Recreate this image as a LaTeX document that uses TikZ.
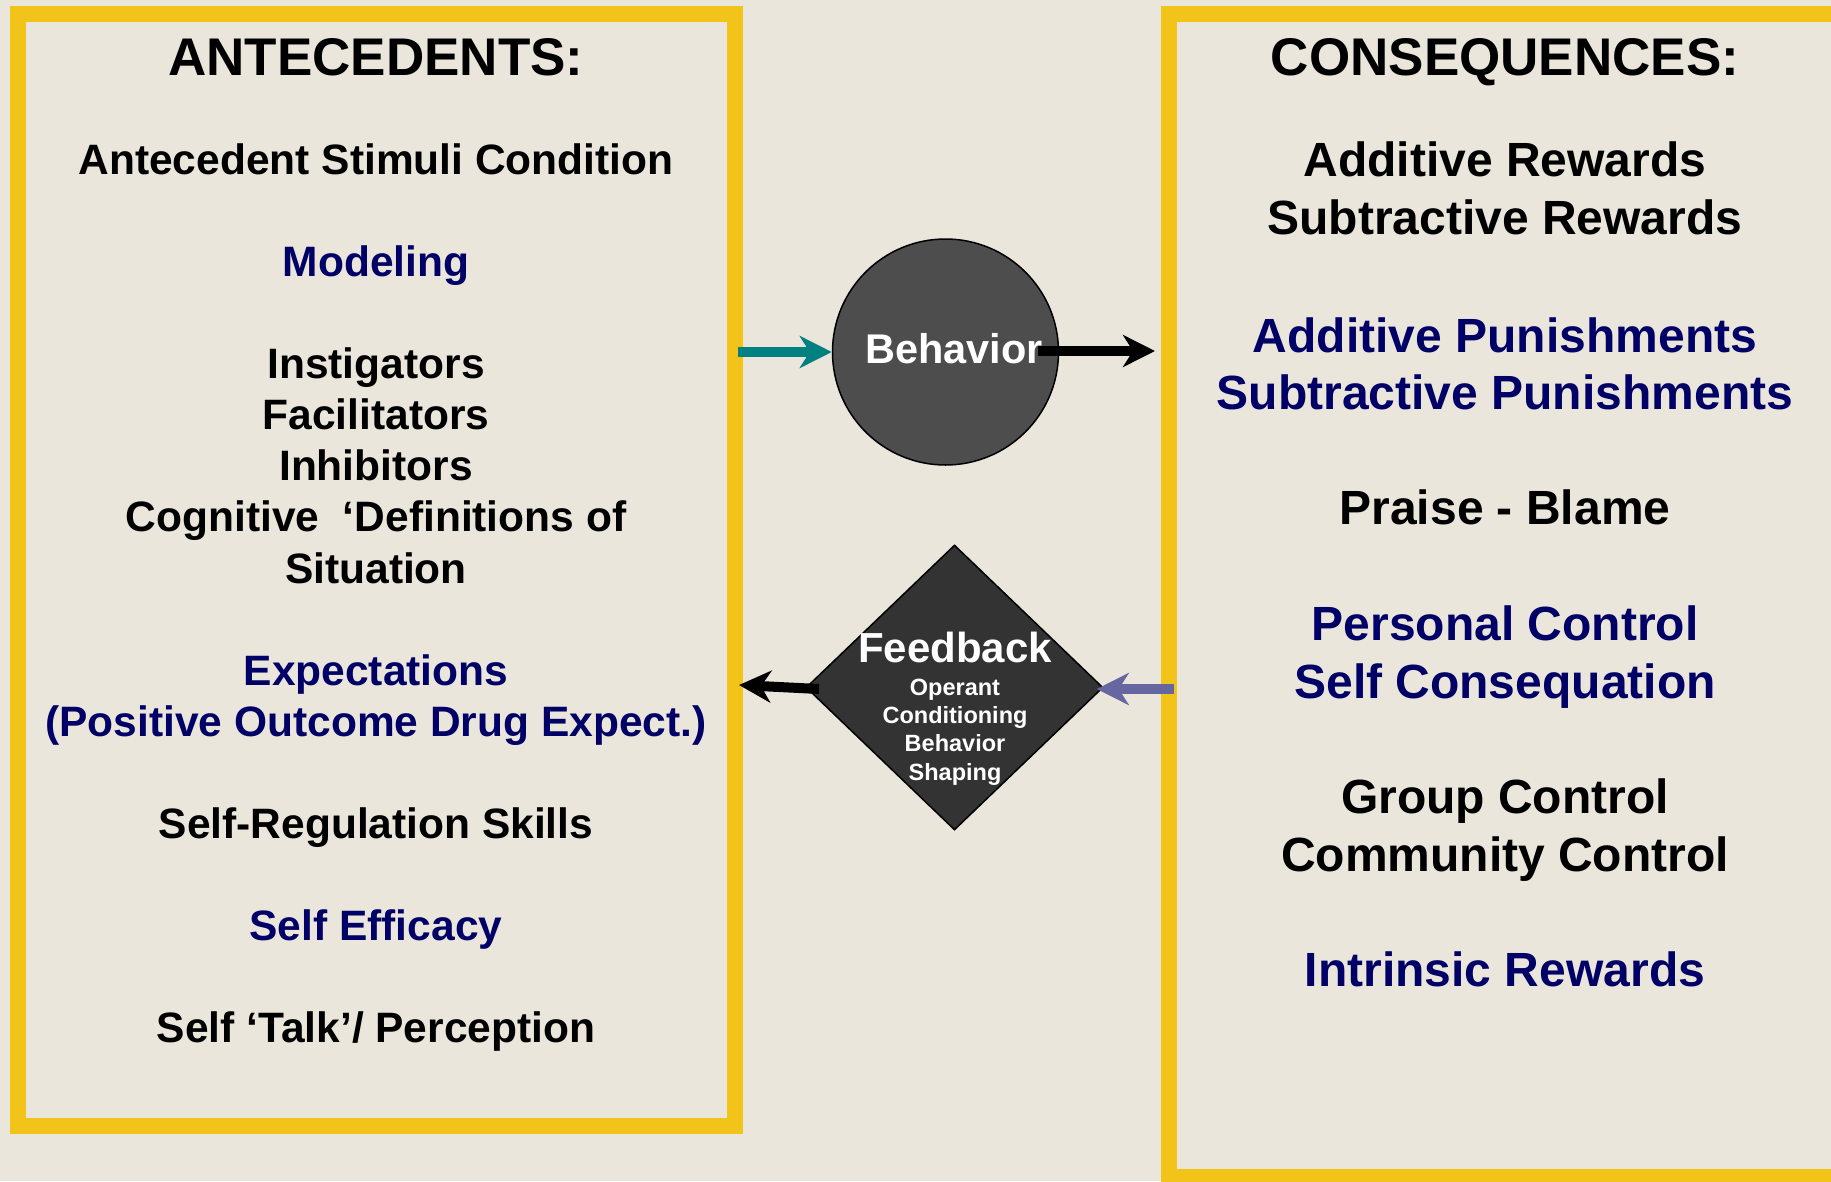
\documentclass[tikz,border=0pt]{standalone}
\usepackage{fontspec}
\setmainfont{Liberation Sans}
\usetikzlibrary{shapes.geometric,arrows.meta}

\definecolor{paper}{RGB}{234,230,220}
\definecolor{frame}{RGB}{242,196,26}
\definecolor{navy}{RGB}{0,0,102}
\definecolor{tealarrow}{RGB}{0,128,128}
\definecolor{slatearrow}{RGB}{102,102,160}
\definecolor{disc}{RGB}{77,77,77}
\definecolor{rhomb}{RGB}{51,51,51}

\begin{document}
\begin{tikzpicture}[x=1pt,y=-1pt,
  panel/.style={draw=frame,line width=16pt,inner sep=0pt},
  head/.style={anchor=base,inner sep=0pt,font=\bfseries\fontsize{53}{60}\selectfont},
  lbody/.style={anchor=base,inner sep=0pt,font=\bfseries\fontsize{42.5}{51}\selectfont},
  rbody/.style={anchor=base,inner sep=0pt,font=\bfseries\fontsize{48}{58}\selectfont},
  hl/.style={text=navy},
  inlabel/.style={anchor=base,inner sep=0pt,text=white},
  fat/.style={line width=10pt,-{Stealth[length=32pt,width=32pt,inset=10pt]}},
]
% page and background
\useasboundingbox (0,0) rectangle (1831,1181);
\clip (0,0) rectangle (1831,1181);
\fill[paper] (0,0) rectangle (1831,1181);

% the two framed panels
\node[panel,minimum width=717pt,minimum height=1112pt] (ante) at (376.5,570) {};
\node[panel,minimum width=681pt,minimum height=1163pt] (cons) at (1509.5,595.5) {};

% central shapes
\node[circle,minimum size=226pt,inner sep=0pt,fill=disc,draw=black,line width=1.5pt] (beh) at (945.5,352) {};
\node[diamond,minimum width=297pt,minimum height=285pt,inner sep=0pt,fill=rhomb,draw=black,line width=1.5pt] (fb) at (954.5,687.5) {};

% connectors
\coordinate (bhout) at (1038,351);
\coordinate (fbout) at (819,689);
\coordinate (fbend) at (739,685);
\coordinate (cin) at (1174,689);
\draw[fat,tealarrow,shorten <=-5pt] (ante.east |- beh.west) -- (beh.west);
\draw[fat,black,shorten >=6pt] (bhout) -- (cons.west |- bhout);
\draw[fat,black] (fbout) -- (fbend);
\draw[fat,slatearrow,shorten >=-7pt] (cin) -- (fb.east |- cin);

% labels inside the shapes
\node[inlabel,font=\bfseries\fontsize{41.5}{48}\selectfont] (behtxt) at (954,363) {Behavior};
\node[inlabel,font=\bfseries\fontsize{42}{48}\selectfont] (fbt) at (955,662) {Feedback};
\node[inlabel,font=\bfseries\fontsize{23.5}{28}\selectfont] (fb1) at (955,695) {Operant};
\node[inlabel,font=\bfseries\fontsize{23.5}{28}\selectfont] (fb2) at (955,723.5) {Conditioning};
\node[inlabel,font=\bfseries\fontsize{23.5}{28}\selectfont] (fb3) at (955,751.5) {Behavior};
\node[inlabel,font=\bfseries\fontsize{23.5}{28}\selectfont] (fb4) at (955,780) {Shaping};

% antecedents column
\node[head] (ahead) at (376,75) {ANTECEDENTS:};
\node[lbody] (a1) at (376,174) {Antecedent Stimuli Condition};
\node[lbody,hl] (a2) at (376,276) {Modeling};
\node[lbody] (a3) at (376,378) {Instigators};
\node[lbody] (a4) at (376,429) {Facilitators};
\node[lbody] (a5) at (376,480.5) {Inhibitors};
\node[lbody] (a6) at (376,531.5) {Cognitive\ \ ‘Definitions of};
\node[lbody] (a7) at (376,583) {Situation};
\node[lbody,hl] (a8) at (376,685.5) {Expectations};
\node[lbody,hl] (a9) at (376,736) {(Positive Outcome Drug Expect.)};
\node[lbody] (a10) at (376,838) {Self-Regulation Skills};
\node[lbody,hl] (a11) at (376,940.5) {Self Efficacy};
\node[lbody] (a12) at (376,1042.5) {Self ‘Talk’/ Perception};

% consequences column
\node[head] (chead) at (1505,75) {CONSEQUENCES:};
\node[rbody] (c1) at (1505,176.7) {Additive Rewards};
\node[rbody] (c2) at (1505,234.6) {Subtractive Rewards};
\node[rbody,hl] (c3) at (1505,352) {Additive Punishments};
\node[rbody,hl] (c4) at (1505,409.5) {Subtractive Punishments};
\node[rbody] (c5) at (1505,524.5) {Praise - Blame};
\node[rbody,hl] (c6) at (1505,640.5) {Personal Control};
\node[rbody,hl] (c7) at (1505,698.5) {Self Consequation};
\node[rbody] (c8) at (1505,813.5) {Group Control};
\node[rbody] (c9) at (1505,871.5) {Community Control};
\node[rbody,hl] (c10) at (1505,986.5) {Intrinsic Rewards};
\end{tikzpicture}
\end{document}
